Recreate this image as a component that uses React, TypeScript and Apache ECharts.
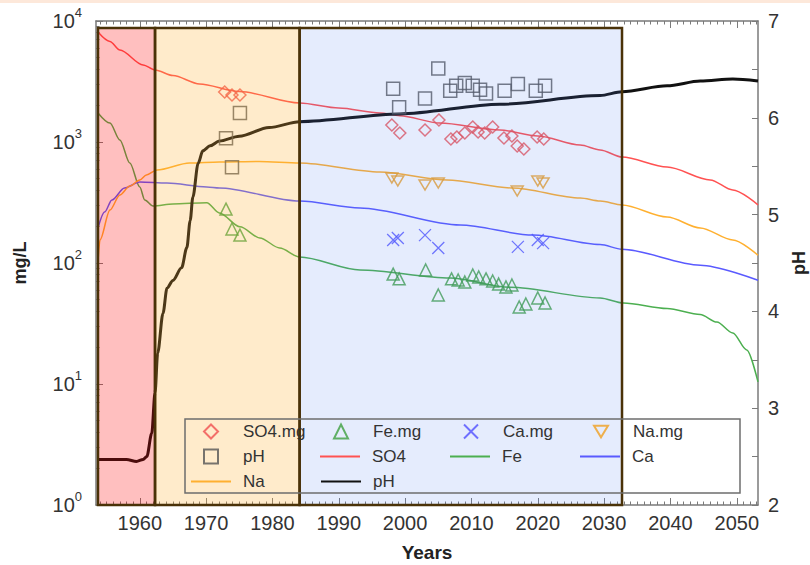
import React, { useEffect, useRef } from 'react';
import * as echarts from 'echarts';

// ---------- data ----------
const decadeTicks = [1960, 1970, 1980, 1990, 2000, 2010, 2020, 2030, 2040, 2050];
const yearTicks = Array.from({ length: 100 }, (_, i) => 1954 + i);
const logMinorTicks = [2, 3, 4, 5, 6, 7, 8, 9, 20, 30, 40, 50, 60, 70, 80, 90, 200, 300, 400, 500, 600, 700, 800, 900, 2000, 3000, 4000, 5000, 6000, 7000, 8000, 9000];

// observed (scatter) values
const so4Obs = [[1972.8, 2590], [1973.9, 2445], [1975.1, 2445], [1998, 1382], [1999.2, 1187], [2003, 1257], [2005.1, 1520], [2006.9, 1059], [2007.8, 1100], [2009, 1187], [2010.2, 1330], [2011, 1210], [2012, 1187], [2013.2, 1330], [2014.9, 1080], [2016.1, 1122], [2016.9, 927], [2017.9, 875], [2019.9, 1100], [2020.9, 1059]];
const feObs = [[1973, 279], [1973.9, 191], [1975.1, 170], [1998.2, 81], [1999.1, 74], [2003.1, 87.5], [2005, 54.4], [2007, 74], [2008, 72.4], [2009, 69.6], [2010.2, 79.6], [2011.1, 76.6], [2012.2, 74], [2013.2, 71], [2014.1, 67], [2015.2, 63.4], [2016.1, 65.8], [2017.2, 43.3], [2018.2, 45.8], [2020, 51.4], [2021.1, 46.7]];
const caObs = [[1998.2, 155], [1998.9, 161], [2003, 170], [2005, 133], [2017, 136], [2020, 155], [2020.8, 146]];
const naObs = [[1998, 504], [1998.9, 476], [2003, 441], [2005, 458], [2016.9, 394], [2020, 476], [2020.8, 458]];
const phObs = [[1973, 5.79], [1973.9, 5.49], [1975.1, 6.05], [1998.2, 6.3], [1999.1, 6.11], [2003, 6.2], [2005, 6.51], [2006.8, 6.28], [2007.7, 6.33], [2009, 6.36], [2010.2, 6.33], [2011.3, 6.29], [2012.2, 6.25], [2015, 6.28], [2017, 6.35], [2019.7, 6.28], [2021.1, 6.33]];

// simulated (line) values
const so4Sim = [[1953.7, 8100], [1955.5, 6770], [1957, 5760], [1960.5, 4330], [1962.3, 3940], [1965, 3540], [1969, 3015], [1975, 2610], [1984.1, 2100], [1990, 1910], [1996.2, 1738], [1999.2, 1650], [2005.2, 1435], [2014.3, 1256], [2020, 1120], [2026.4, 944], [2029.4, 860], [2032.7, 751], [2039.5, 621], [2046, 486], [2049.4, 401], [2053.2, 302]];
const naSim = [[1953.7, 102], [1954, 155], [1955.5, 274], [1957, 365], [1958.5, 433], [1960, 486], [1961, 534], [1962.6, 587], [1967.5, 670], [1972, 684], [1978, 690], [1984.1, 670], [1996.2, 565], [2006.3, 486], [2016.2, 417], [2026.4, 344], [2029.4, 325], [2032.7, 302], [2039.5, 240], [2044.5, 195], [2049.4, 155], [2053.2, 116]];
const caSim = [[1953.7, 195], [1954.7, 264], [1955.8, 332], [1957.7, 417], [1960, 467], [1964.1, 458], [1970.1, 425], [1972, 417], [1984.1, 325], [1993.2, 285], [2008.3, 206], [2019.3, 170], [2029.4, 142], [2032.7, 130], [2044.5, 96], [2053.2, 72]];
const feSim = [[1953.7, 1738], [1955.5, 1435], [1957, 1039], [1958.5, 670], [1960, 425], [1960.75, 332], [1962, 296], [1965, 308], [1970.1, 315], [1972, 259], [1975.1, 199], [1978.1, 161], [1981.1, 133], [1984.1, 112], [1993.2, 87.5], [2006.8, 75], [2015.8, 63], [2029.4, 51.4], [2032.9, 46.7], [2039.5, 42], [2044.5, 37.5], [2047, 32.5], [2049.4, 26.4], [2051.5, 19.1], [2053.2, 10.4]];
const phSim = [[1953.7, 2.47], [1958, 2.47], [1959.5, 2.45], [1960.5, 2.47], [1961.06, 2.5], [1961.8, 2.74], [1962.3, 3.16], [1962.7, 3.57], [1963.5, 3.98], [1964.1, 4.24], [1965, 4.32], [1966.3, 4.45], [1967.1, 4.66], [1967.6, 4.94], [1968, 5.18], [1968.8, 5.53], [1969.5, 5.66], [1970.6, 5.71], [1972, 5.76], [1975, 5.81], [1979.5, 5.9], [1984.1, 5.96], [1999.2, 6.04], [2014.3, 6.14], [2029.4, 6.23], [2032.7, 6.27], [2039.5, 6.33], [2044.5, 6.38], [2049.4, 6.4], [2053.2, 6.38]];

// shaded periods
const periodStarts = [1953.7, 1962.3, 1984.1];
const periodEnds = [1962.3, 1984.1, 2032.7];
const periodColors = ['rgba(255,0,0,0.25)', 'rgba(255,176,48,0.25)', 'rgba(80,130,240,0.15)'];
const BAND_TOP = 8750;

// legend entries (grid of 4 columns, 3 rows)
const scatterLegend = ['SO4.mg', 'Fe.mg', 'Ca.mg', 'Na.mg', 'pH_obs'];
const lineLegendRow2 = ['SO4', 'Fe', 'Ca'];
const lineLegendRow3 = ['Na', 'pH'];

const FONT = '"Liberation Sans", Arial, sans-serif';
const AXIS_COLOR = '#7a7a7a';
const TEXT_COLOR = '#333';

const XMIN = 1953.4;
const XMAX = 2053.2;

function buildOption() {
  const axisLine = { show: true, onZero: false, lineStyle: { color: AXIS_COLOR, width: 1.5 } };
  const tickStyle = { color: AXIS_COLOR, width: 1 };
  const baseX = { type: 'value', min: XMIN, max: XMAX, splitLine: { show: false } };
  const baseLog = { type: 'log', logBase: 10, min: 1, max: 10000, splitLine: { show: false } };

  const scatter = (name: string, data: number[][], symbol: string, size: any, color: string, yIdx = 0, bw = 1.5) => ({
    type: 'scatter', name, data, symbol, symbolSize: size, yAxisIndex: yIdx, z: 3,
    itemStyle: { color: 'rgba(0,0,0,0)', borderColor: color, borderWidth: bw },
  });
  const line = (name: string, data: number[][], color: string, width: number, yIdx = 0) => ({
    type: 'line', name, data, yAxisIndex: yIdx, symbol: 'none', showSymbol: false,
    smooth: 0.3, smoothMonotone: 'x', z: 2,
    lineStyle: { color, width }, itemStyle: { color },
  });

  const legendCommon = {
    orient: 'horizontal', itemGap: 0, padding: 0, z: 6, itemHeight: 14,
    formatter: (n: string) => (n === 'pH_obs' ? 'pH' : n),
  };
  const lineText = { fontSize: 17, color: TEXT_COLOR, fontFamily: FONT, width: 77, lineHeight: 25, padding: [0, 0, 0, 7] };
  const lineLegend = (names: string[], left: number, top: number) => ({
    ...legendCommon, left, top, width: 525, itemWidth: 40, textStyle: lineText,
    data: names.map((name) => ({ name, itemStyle: { opacity: 0 } })),
  });

  return {
    animation: false,
    backgroundColor: '#fff',
    grid: { left: 96, right: 52, top: 21, bottom: 60, containLabel: false, outerBoundsMode: 'none' },
    xAxis: [
      {
        ...baseX, position: 'bottom', axisLine,
        axisTick: { show: true, inside: true, length: 7, customValues: decadeTicks, lineStyle: tickStyle },
        axisLabel: {
          show: true, customValues: decadeTicks, fontSize: 20, color: TEXT_COLOR, fontFamily: FONT, margin: 8,
          formatter: (v: number) => String(Math.round(v)),
        },
        name: 'Years', nameLocation: 'middle', nameGap: 38,
        nameTextStyle: { fontSize: 19, fontWeight: 'bold', color: '#222', fontFamily: FONT },
      },
      {
        ...baseX, position: 'top', axisLine,
        axisTick: { show: true, inside: true, length: 7, customValues: decadeTicks, lineStyle: tickStyle },
        axisLabel: { show: false },
      },
      {
        ...baseX, position: 'bottom', axisLine: { show: false, onZero: false },
        axisTick: { show: true, inside: true, length: 3.5, customValues: yearTicks, lineStyle: tickStyle },
        axisLabel: { show: false },
      },
      {
        ...baseX, position: 'top', axisLine: { show: false, onZero: false },
        axisTick: { show: true, inside: true, length: 3.5, customValues: yearTicks, lineStyle: tickStyle },
        axisLabel: { show: false },
      },
    ],
    yAxis: [
      {
        ...baseLog, position: 'left', axisLine,
        axisTick: { show: true, inside: true, length: 7, lineStyle: tickStyle },
        axisLabel: {
          margin: 14,
          formatter: (v: number) => `{b|10}{s|${Math.round(Math.log10(v))}}`,
          rich: {
            b: { fontSize: 20, color: TEXT_COLOR, fontFamily: FONT, lineHeight: 30 },
            s: { fontSize: 13, color: TEXT_COLOR, fontFamily: FONT, verticalAlign: 'top', lineHeight: 14 },
          },
        },
        name: 'mg/L', nameLocation: 'middle', nameGap: 67, nameRotate: 90,
        nameTextStyle: { fontSize: 18, fontWeight: 'bold', color: '#222', fontFamily: FONT },
      },
      {
        type: 'value', min: 2, max: 7, interval: 1, position: 'right', axisLine,
        splitLine: { show: false }, minorSplitLine: { show: false },
        axisTick: { show: true, inside: true, length: 6, lineStyle: tickStyle },
        minorTick: { show: true, splitNumber: 2, length: 6, lineStyle: tickStyle },
        axisLabel: { fontSize: 20, color: TEXT_COLOR, fontFamily: FONT, margin: 10 },
        name: 'pH', nameLocation: 'middle', nameGap: 27, nameRotate: 90,
        nameTextStyle: { fontSize: 18, fontWeight: 'bold', color: '#222', fontFamily: FONT },
      },
      {
        ...baseLog, position: 'left', axisLine: { show: false, onZero: false },
        axisTick: { show: true, inside: true, length: 3.5, customValues: logMinorTicks, lineStyle: tickStyle },
        axisLabel: { show: false },
      },
    ],
    legend: [
      {
        ...legendCommon, left: 203, top: 419, width: 520, itemWidth: 14,
        textStyle: { fontSize: 17, color: TEXT_COLOR, fontFamily: FONT, width: 90, lineHeight: 25, padding: [0, 0, 0, 20] },
        data: scatterLegend,
      },
      lineLegend(lineLegendRow2, 319, 444),
      lineLegend(lineLegendRow3, 190, 469),
    ],
    graphic: [
      { type: 'rect', shape: { x: 0, y: 0, width: 810, height: 3 }, style: { fill: '#fde8da' }, silent: true },
      {
        type: 'rect', z: 6, silent: true,
        shape: { x: 185, y: 419, width: 555, height: 74 },
        style: { fill: 'none', stroke: '#6e6e6e', lineWidth: 1.5 },
      },
    ],
    series: [
      line('SO4', so4Sim, '#ff5252', 1.5),
      line('Fe', feSim, '#4caf50', 1.5),
      line('Ca', caSim, '#5a5aff', 1.5),
      line('Na', naSim, '#ffb030', 1.5),
      line('pH', phSim, '#111111', 3, 1),
      scatter('SO4.mg', so4Obs, 'diamond', 12, '#f05050'),
      scatter('Fe.mg', feObs, 'triangle', 12, '#3fa040'),
      scatter('Ca.mg', caObs, 'path://M0 0L10 10M10 0L0 10', 12, '#5050ff', 0, 1.3),
      scatter('Na.mg', naObs, 'path://M0 0L12 0L6 10Z', [12, 10], '#f0a020'),
      scatter('pH_obs', phObs, 'rect', 13, '#555555', 1),
      {
        type: 'line', name: 'periods', data: [], xAxisIndex: 0, yAxisIndex: 0, z: 5,
        markArea: {
          silent: true, z: 5,
          data: periodStarts.map((s, i) => [
            { xAxis: s, yAxis: BAND_TOP, itemStyle: { color: periodColors[i], borderColor: '#4a3208', borderWidth: 2.5 } },
            { xAxis: periodEnds[i], yAxis: 1 },
          ]),
        },
      },
    ],
  };
}

export default function App() {
  const ref = useRef<HTMLDivElement>(null);
  useEffect(() => {
    const chart = echarts.init(ref.current!, null, { renderer: 'svg' });
    chart.setOption(buildOption() as any);
    return () => chart.dispose();
  }, []);
  return (
    <div
      ref={ref}
      style={{ position: 'fixed', left: 0, top: 0, width: 810, height: 565, background: '#fff' }}
    />
  );
}
